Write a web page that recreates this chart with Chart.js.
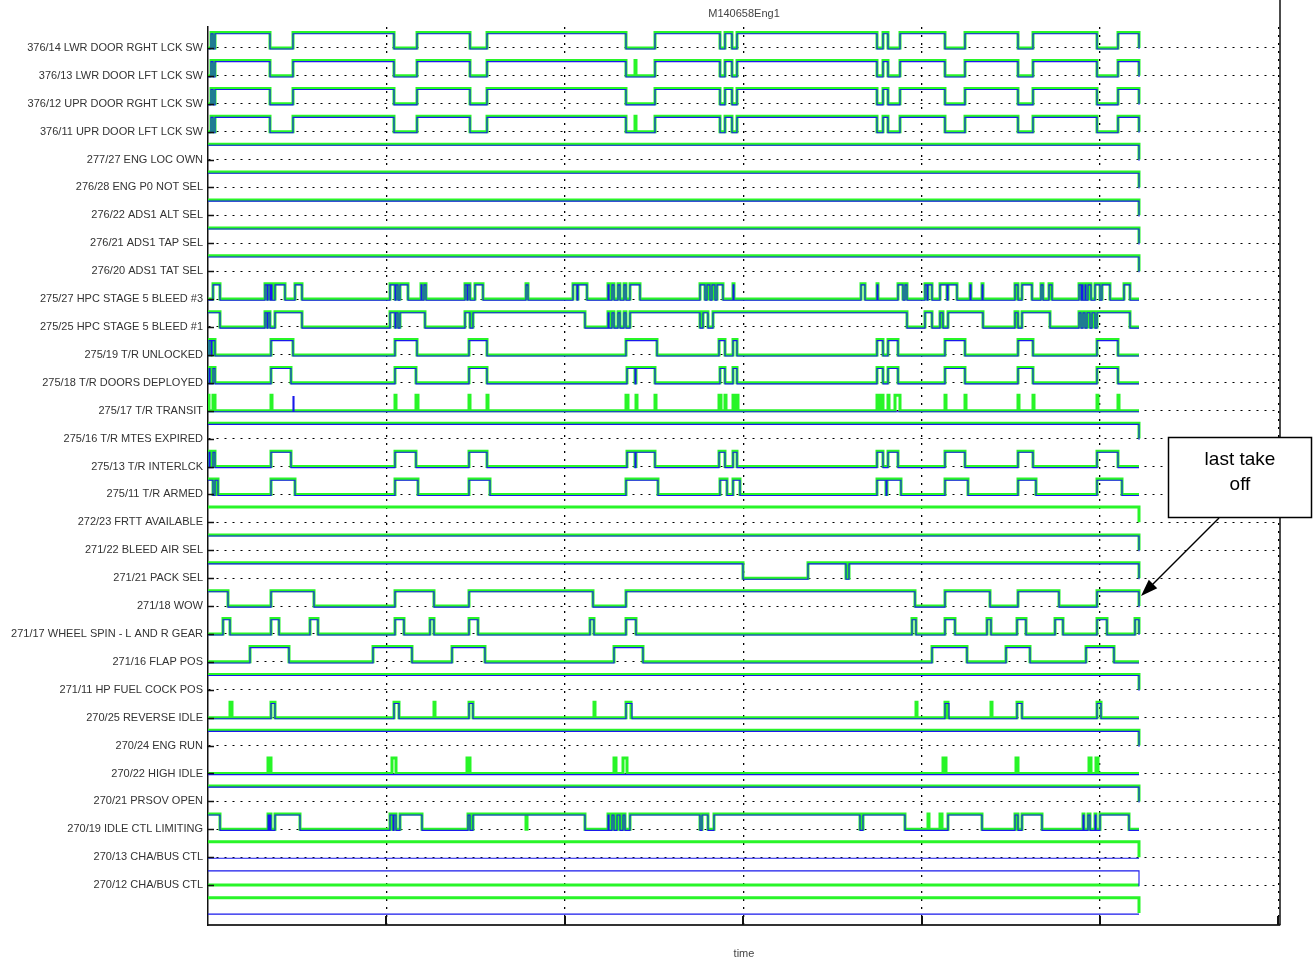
<!DOCTYPE html>
<html>
<head>
<meta charset="utf-8">
<script src="https://cdn.jsdelivr.net/npm/chart.js@4"></script>
<style>
  body { margin: 0; background: #fff; }
  canvas { display: block; }
</style>
</head>
<body>
<canvas id="chart" width="1314" height="965"></canvas>
<script>
// time axis runs 0..1072, last recorded sample at END
const END = 931;
const X_MAX = 1072;
const GRID_STEP = 178.4;
const HIGH = 0.55; // height of a "1" level, in row units

const signalNames = [
    '376/14 LWR DOOR RGHT LCK SW',
    '376/13 LWR DOOR LFT LCK SW',
    '376/12 UPR DOOR RGHT LCK SW',
    '376/11 UPR DOOR LFT LCK SW',
    '277/27 ENG LOC OWN',
    '276/28 ENG P0 NOT SEL',
    '276/22 ADS1 ALT SEL',
    '276/21 ADS1 TAP SEL',
    '276/20 ADS1 TAT SEL',
    '275/27 HPC STAGE 5 BLEED #3',
    '275/25 HPC STAGE 5 BLEED #1',
    '275/19 T/R UNLOCKED',
    '275/18 T/R DOORS DEPLOYED',
    '275/17 T/R TRANSIT',
    '275/16 T/R MTES EXPIRED',
    '275/13 T/R INTERLCK',
    '275/11 T/R ARMED',
    '272/23 FRTT AVAILABLE',
    '271/22 BLEED AIR SEL',
    '271/21 PACK SEL',
    '271/18 WOW',
    '271/17 WHEEL SPIN - L AND R GEAR',
    '271/16 FLAP POS',
    '271/11 HP FUEL COCK POS',
    '270/25 REVERSE IDLE',
    '270/24 ENG RUN',
    '270/22 HIGH IDLE',
    '270/21 PRSOV OPEN',
    '270/19 IDLE CTL LIMITING',
    '270/13 CHA/BUS CTL',
    '270/12 CHA/BUS CTL'
];

// each signal = list of [on, off] intervals where the bit is 1
const alwaysOn = [[0, END]];
const alwaysOff = [];
const doorLock = [[3, 5], [7, 62], [85, 186], [209, 262], [279, 418], [447, 512], [517, 524], [529, 669],
    [675, 680], [692, 737], [757, 810], [825, 889], [910, 931]];
const doorLockSpike = [[3, 5], [7, 62], [85, 186], [209, 262], [279, 418], [427, 428], [447, 512], [517, 524],
    [529, 669], [675, 680], [692, 737], [757, 810], [825, 889], [910, 931]];
const bleed3 = [[5, 12], [57, 59], [60, 62], [63, 64], [67, 77], [87, 94], [182, 187], [188, 190], [192, 200],
    [213, 214], [216, 218], [257, 259], [260, 262], [267, 275], [318, 320], [365, 369], [370, 379], [400, 401],
    [404, 406], [410, 412], [416, 418], [422, 432], [492, 497], [499, 502], [504, 507], [509, 515], [525, 526],
    [653, 657], [669, 670], [690, 695], [697, 699], [717, 719], [720, 724], [732, 739], [740, 749], [762, 763],
    [774, 775], [807, 810], [814, 824], [833, 835], [841, 844], [871, 873], [874, 875], [877, 878], [880, 883],
    [887, 892], [894, 902], [916, 922]];
const bleed1 = [[0, 12], [57, 59], [60, 62], [67, 94], [182, 187], [188, 190], [192, 217], [257, 262], [265, 377],
    [400, 401], [404, 406], [410, 412], [416, 418], [422, 492], [495, 500], [505, 699], [717, 724], [732, 735],
    [740, 775], [807, 810], [814, 842], [871, 873], [875, 877], [879, 882], [884, 887], [889, 922]];
const trUnlocked = [[1, 3], [4, 7], [63, 85], [187, 209], [261, 279], [418, 449], [511, 517], [525, 529],
    [669, 675], [680, 690], [737, 757], [810, 825], [889, 910]];
const trDeployed = [[1, 2], [5, 7], [63, 83], [187, 208], [261, 279], [419, 427], [428, 447], [512, 517],
    [525, 529], [669, 675], [680, 690], [737, 757], [810, 825], [889, 910]];
const trTransitGreen = [[0, 1], [5, 7], [63, 64], [187, 188], [208, 210], [261, 262], [279, 280], [418, 420],
    [428, 429], [447, 448], [511, 513], [517, 518], [525, 526], [529, 530], [669, 670], [672, 675], [680, 681],
    [687, 692], [737, 738], [757, 758], [810, 811], [825, 826], [889, 890], [910, 911]];
const trTransitBlue = [[85, 86]];
const trInterlck = [[1, 2], [5, 7], [63, 83], [187, 208], [261, 279], [419, 427], [428, 447], [511, 517],
    [525, 529], [669, 675], [680, 690], [737, 757], [810, 825], [889, 910]];
const trArmed = [[0, 5], [7, 10], [63, 87], [187, 210], [261, 282], [418, 450], [512, 519], [525, 532],
    [669, 678], [679, 693], [737, 760], [810, 828], [889, 914]];
const packSel = [[0, 535], [600, 638], [641, 931]];
const wow = [[0, 20], [63, 106], [187, 226], [261, 385], [418, 707], [737, 782], [810, 851], [889, 931]];
const wheelSpin = [[15, 22], [63, 71], [102, 110], [187, 196], [222, 226], [261, 270], [382, 386], [418, 428],
    [704, 708], [737, 747], [779, 783], [809, 818], [847, 855], [889, 899], [927, 931]];
const flapPos = [[42, 81], [165, 204], [244, 277], [406, 435], [724, 759], [798, 822], [878, 906]];
const revIdleGreen = [[22, 24], [63, 67], [186, 191], [226, 227], [261, 265], [386, 387], [418, 423], [708, 709],
    [737, 740], [783, 784], [809, 814], [889, 893]];
const revIdleBlue = [[63, 67], [186, 191], [261, 265], [418, 424], [737, 741], [809, 814], [889, 893]];
const highIdle = [[60, 63], [184, 188], [259, 262], [406, 408], [415, 419], [735, 738], [808, 810], [881, 883],
    [888, 890]];
const idleCtlGreen = [[0, 12], [60, 61], [62, 63], [67, 92], [182, 185], [186, 188], [192, 214], [260, 262],
    [265, 318], [319, 377], [400, 401], [404, 406], [409, 412], [415, 417], [422, 492], [494, 500], [506, 652],
    [655, 697], [720, 721], [732, 734], [740, 774], [807, 810], [814, 834], [875, 876], [880, 882], [887, 888],
    [892, 921]];
const idleCtlBlue = [[0, 12], [60, 61], [62, 63], [67, 92], [182, 185], [186, 188], [192, 214], [260, 262],
    [265, 377], [400, 401], [404, 406], [409, 412], [415, 417], [422, 492], [494, 500], [506, 652],
    [655, 697], [740, 774], [807, 810], [814, 834], [875, 876], [880, 882], [887, 888], [892, 921]];

// [green, blue] per row, top to bottom (last row has no label)
const rows = [
    [doorLock, doorLock], [doorLockSpike, doorLock], [doorLock, doorLock], [doorLockSpike, doorLock],
    [alwaysOn, alwaysOn], [alwaysOn, alwaysOn], [alwaysOn, alwaysOn], [alwaysOn, alwaysOn], [alwaysOn, alwaysOn],
    [bleed3, bleed3], [bleed1, bleed1], [trUnlocked, trUnlocked], [trDeployed, trDeployed],
    [trTransitGreen, trTransitBlue], [alwaysOn, alwaysOn], [trInterlck, trInterlck], [trArmed, trArmed],
    [alwaysOn, null], [alwaysOn, alwaysOn], [packSel, packSel], [wow, wow], [wheelSpin, wheelSpin],
    [flapPos, flapPos], [alwaysOn, alwaysOn], [revIdleGreen, revIdleBlue], [alwaysOn, alwaysOn],
    [highIdle, alwaysOff], [alwaysOn, alwaysOn], [idleCtlGreen, idleCtlBlue],
    [alwaysOn, alwaysOff], [alwaysOff, alwaysOn], [alwaysOn, alwaysOff]
];

function buildPoints(intervals, row, shift) {
    const hi = row - HIGH + shift;
    const lo = row + shift;
    const pts = [];
    if (!intervals.length || intervals[0][0] > 0) pts.push({ x: 0, y: lo });
    intervals.forEach(([a, b]) => {
        pts.push({ x: a, y: hi });
        pts.push({ x: b, y: lo });
    });
    if (pts[pts.length - 1].x < END) pts.push({ x: END, y: lo });
    return pts;
}

const datasets = [];
rows.forEach(([green, blue], i) => {
    datasets.push({
        data: buildPoints(green, i, 0),
        borderColor: 'rgb(40,245,40)',
        borderWidth: 3,
        order: 2
    });
    if (blue) {
        datasets.push({
            data: buildPoints(blue, i, 0.04),
            borderColor: 'rgb(25,25,235)',
            borderWidth: 1.1,
            order: 1
        });
    }
});

const decorations = {
    id: 'decorations',
    afterDraw(chart) {
        const ctx = chart.ctx;
        const { left, right, bottom } = chart.chartArea;
        const xs = chart.scales.x;
        const ys = chart.scales.y;
        ctx.save();

        // plot title
        ctx.fillStyle = '#444';
        ctx.font = '11px "Liberation Sans", Arial, sans-serif';
        ctx.textAlign = 'center';
        ctx.textBaseline = 'middle';
        ctx.fillText('M140658Eng1', (left + right) / 2, 14);

        // right box edge
        ctx.strokeStyle = '#111';
        ctx.lineWidth = 1.5;
        ctx.beginPath();
        ctx.moveTo(right, 0);
        ctx.lineTo(right, bottom);
        ctx.stroke();

        // inward tick marks
        ctx.lineWidth = 1.5;
        signalNames.forEach((_, i) => {
            const y = Math.round(ys.getPixelForValue(i)) + 0.5;
            ctx.beginPath();
            ctx.moveTo(left, y);
            ctx.lineTo(left + 6, y);
            ctx.stroke();
        });
        ctx.lineWidth = 2;
        for (let k = 1; k * GRID_STEP < X_MAX; k++) {
            const x = Math.round(xs.getPixelForValue(k * GRID_STEP));
            ctx.beginPath();
            ctx.moveTo(x, bottom);
            ctx.lineTo(x, bottom - 9);
            ctx.stroke();
        }

        // "last take off" callout
        ctx.fillStyle = '#fff';
        ctx.fillRect(1168, 437, 144, 80);
        ctx.lineWidth = 1.5;
        ctx.strokeStyle = '#000';
        ctx.strokeRect(1168.5, 437.5, 143, 80);
        ctx.fillStyle = '#000';
        ctx.font = '19px "Liberation Sans", Arial, sans-serif';
        ctx.fillText('last take', 1240, 460);
        ctx.fillText('off', 1240, 485);

        const tipX = 1141, tipY = 596;
        ctx.beginPath();
        ctx.moveTo(1219, 518);
        ctx.lineTo(tipX + 8, tipY - 8);
        ctx.stroke();
        const ang = Math.atan2(tipY - 518, tipX - 1219);
        ctx.beginPath();
        ctx.moveTo(tipX, tipY);
        ctx.lineTo(tipX - 17 * Math.cos(ang) + 6 * Math.sin(ang), tipY - 17 * Math.sin(ang) - 6 * Math.cos(ang));
        ctx.lineTo(tipX - 17 * Math.cos(ang) - 6 * Math.sin(ang), tipY - 17 * Math.sin(ang) + 6 * Math.cos(ang));
        ctx.closePath();
        ctx.fill();

        ctx.restore();
    }
};

new Chart(document.getElementById('chart'), {
    type: 'line',
    data: { datasets },
    options: {
        responsive: false,
        animation: false,
        devicePixelRatio: 1,
        layout: { padding: { top: 27, right: 34, left: 0, bottom: 0 } },
        elements: {
            line: { stepped: true, tension: 0, fill: false, borderCapStyle: 'butt', borderJoinStyle: 'miter' },
            point: { radius: 0, hitRadius: 0 }
        },
        plugins: {
            legend: { display: false },
            tooltip: { enabled: false },
            title: { display: false }
        },
        scales: {
            x: {
                type: 'linear',
                min: 0,
                max: X_MAX,
                afterBuildTicks: (scale) => {
                    const t = [];
                    for (let k = 1; k * GRID_STEP < X_MAX; k++) t.push({ value: k * GRID_STEP });
                    scale.ticks = t;
                },
                afterFit: (scale) => { scale.height = 40; },
                ticks: { display: false },
                grid: { color: '#000', lineWidth: 1.3, drawTicks: false },
                border: { display: true, color: '#333', width: 2, dash: [2, 6] },
                title: {
                    display: true,
                    text: 'time',
                    color: '#444',
                    font: { family: '"Liberation Sans", Arial, sans-serif', size: 11 },
                    padding: { top: 0, bottom: 4 }
                }
            },
            y: {
                type: 'linear',
                reverse: true,
                min: -0.75,
                max: 31.43,
                afterBuildTicks: (scale) => {
                    scale.ticks = signalNames.map((_, i) => ({ value: i }));
                },
                afterFit: (scale) => { scale.width = 208; },
                ticks: {
                    autoSkip: false,
                    padding: 5,
                    color: '#333',
                    font: { family: '"Liberation Sans", Arial, sans-serif', size: 11 },
                    callback: (v) => signalNames[v]
                },
                grid: { color: '#000', lineWidth: 1, drawTicks: false },
                border: { display: true, color: '#111', width: 1.5, dash: [2, 6] }
            }
        }
    },
    plugins: [decorations]
});
</script>
</body>
</html>
